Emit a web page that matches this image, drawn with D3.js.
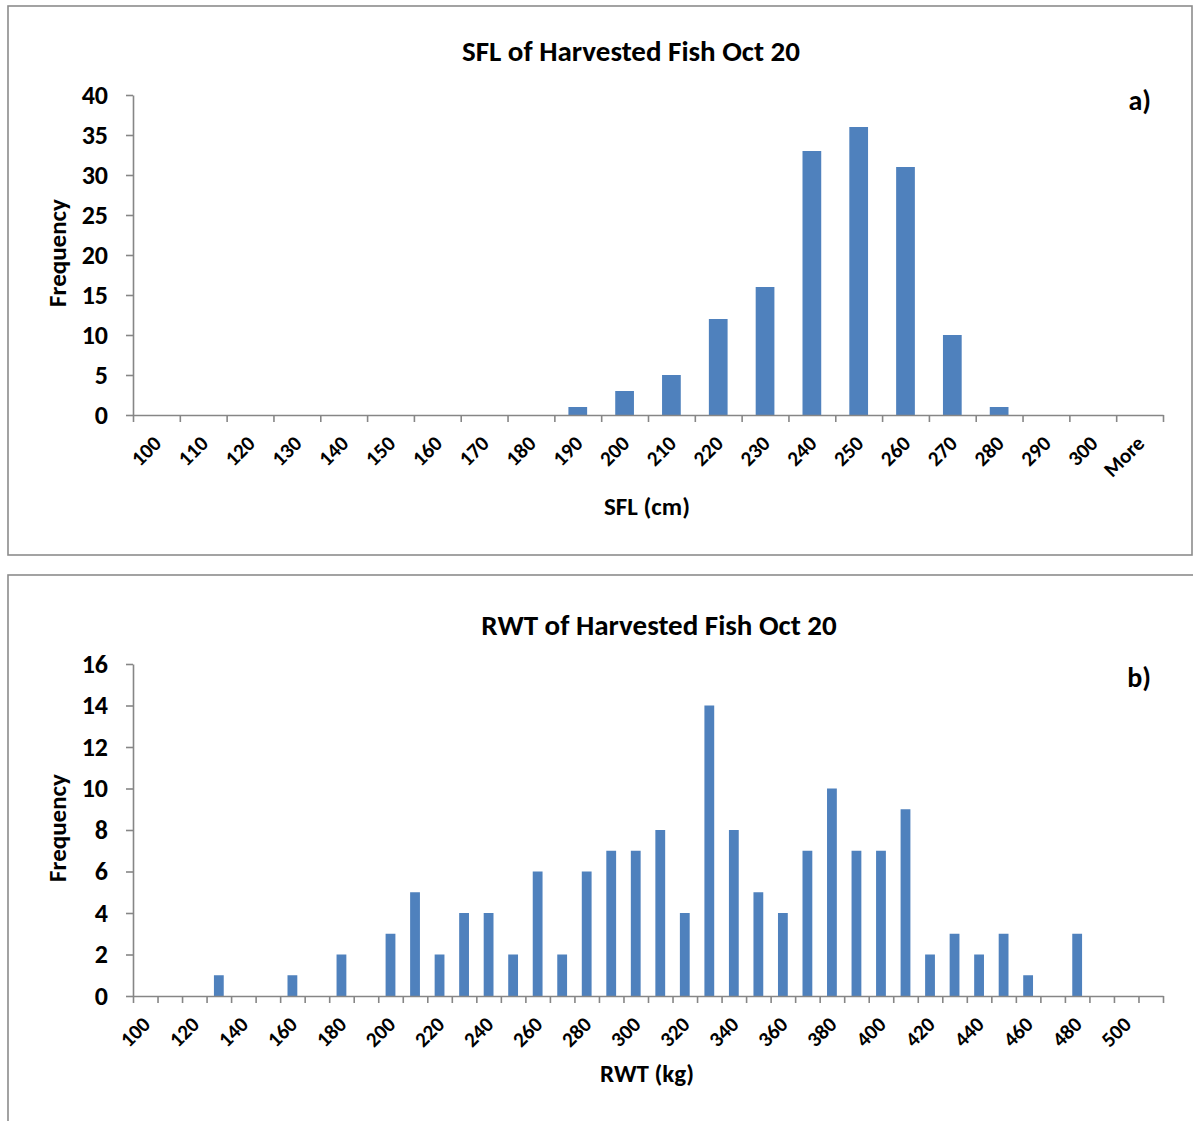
<!DOCTYPE html>
<html>
<head>
<meta charset="utf-8">
<script src="https://cdn.jsdelivr.net/npm/d3@7"></script>
<style>
  body { margin: 0; background: #fff; }
  text { font-family: Carlito, Lato, "Open Sans", sans-serif; font-weight: bold; fill: #000; }
</style>
</head>
<body>
<svg id="chart" width="1193" height="1121"></svg>
<script>
// panel a) fork length bins
const sflBins = ["100", "110", "120", "130", "140", "150", "160", "170", "180", "190", "200",
  "210", "220", "230", "240", "250", "260", "270", "280", "290", "300", "More"];
const sflCounts = [0, 0, 0, 0, 0, 0, 0, 0, 0, 1, 3, 5, 12, 16, 33, 36, 31, 10, 1, 0, 0, 0];
const sflTicks = [0, 5, 10, 15, 20, 25, 30, 35, 40];

// panel b) round weight bins
const rwtBins = ["100", "110", "120", "130", "140", "150", "160", "170", "180", "190", "200",
  "210", "220", "230", "240", "250", "260", "270", "280", "290", "300",
  "310", "320", "330", "340", "350", "360", "370", "380", "390", "400",
  "410", "420", "430", "440", "450", "460", "470", "480", "490", "500", "More"];
const rwtCounts = [0, 0, 0, 1, 0, 0, 1, 0, 2, 0, 3, 5, 2, 4, 4, 2, 6, 2, 6, 7, 7,
  8, 4, 14, 8, 5, 4, 7, 10, 7, 7, 9, 2, 3, 2, 3, 1, 0, 3, 0, 0, 0];
const rwtTicks = [0, 2, 4, 6, 8, 10, 12, 14, 16];

const svg = d3.select("#chart");
const axisColor = "#868686";
const barColor = "#4f81bd";

function drawPanel(p) {
  const g = svg.append("g");

  g.append("rect")
    .attr("x", p.frame[0]).attr("y", p.frame[1])
    .attr("width", p.frame[2]).attr("height", p.frame[3])
    .attr("fill", "#fff").attr("stroke", "#8c8c8c").attr("stroke-width", 1.6);

  const x = d3.scaleBand().domain(p.bins).range([133, 1163]);
  const y = d3.scaleLinear().domain([0, d3.max(p.ticks)]).range([p.bottom, p.top]);
  const edges = d3.scaleLinear().domain([0, p.bins.length]).range(x.range());

  // bars (gap width 150%)
  const bw = x.bandwidth() * 0.4;
  g.selectAll(".bar")
    .data(p.bins.map((b, i) => ({ bin: b, v: p.counts[i] })).filter(d => d.v > 0))
    .join("rect")
    .attr("x", d => x(d.bin) + (x.bandwidth() - bw) / 2)
    .attr("y", d => y(d.v))
    .attr("width", bw)
    .attr("height", d => y(0) - y(d.v))
    .attr("fill", barColor);

  // y axis
  g.append("g")
    .attr("transform", "translate(133,0)")
    .call(d3.axisLeft(y).tickValues(p.ticks).tickSize(7).tickSizeOuter(0).tickPadding(18))
    .call(a => a.selectAll("path,line").attr("stroke", axisColor).attr("stroke-width", 1.6))
    .call(a => a.selectAll("text").attr("font-size", 26).attr("font-family", null).attr("fill", "#000"));

  // x axis: boundary ticks
  g.append("g")
    .attr("transform", `translate(0,${p.bottom})`)
    .call(d3.axisBottom(edges).tickValues(d3.range(p.bins.length + 1)).tickSize(7).tickSizeOuter(0).tickFormat(""))
    .call(a => a.selectAll("path,line").attr("stroke", axisColor).attr("stroke-width", 1.6));

  // x tick labels, rotated
  g.append("g")
    .selectAll("text")
    .data(p.bins.filter((b, i) => (i % p.labelStep === 0 && b !== "More") || (b === "More" && p.showMore)))
    .join("text")
    .attr("transform", d => `translate(${x(d) + x.bandwidth() / 2 + 1},${p.bottom + 24.5}) rotate(-45)`)
    .attr("text-anchor", "end")
    .attr("dy", "0.35em")
    .attr("font-size", 21)
    .text(d => d);

  g.append("text")
    .attr("x", p.titleX).attr("y", p.titleY)
    .attr("text-anchor", "middle").attr("font-size", 29)
    .text(p.title);

  g.append("text")
    .attr("x", 1151).attr("y", p.tagY)
    .attr("text-anchor", "end").attr("font-size", 28)
    .text(p.tag);

  g.append("text")
    .attr("transform", `translate(66,${(p.top + p.bottom) / 2 - 2}) rotate(-90)`)
    .attr("text-anchor", "middle").attr("font-size", 25)
    .text("Frequency");

  g.append("text")
    .attr("x", 647).attr("y", p.xTitleY)
    .attr("text-anchor", "middle").attr("font-size", 25)
    .text(p.xTitle);
}

drawPanel({
  frame: [8, 6, 1184, 549],
  bins: sflBins, counts: sflCounts, ticks: sflTicks,
  top: 95, bottom: 415, labelStep: 1, showMore: true,
  title: "SFL of Harvested Fish Oct 20", titleX: 631, titleY: 61,
  tag: "a)", tagY: 110,
  xTitle: "SFL (cm)", xTitleY: 515
});

drawPanel({
  frame: [8, 575, 1200, 560],
  bins: rwtBins, counts: rwtCounts, ticks: rwtTicks,
  top: 664, bottom: 996, labelStep: 2, showMore: false,
  title: "RWT of Harvested Fish Oct 20", titleX: 659, titleY: 635,
  tag: "b)", tagY: 687,
  xTitle: "RWT (kg)", xTitleY: 1082
});
</script>
</body>
</html>
